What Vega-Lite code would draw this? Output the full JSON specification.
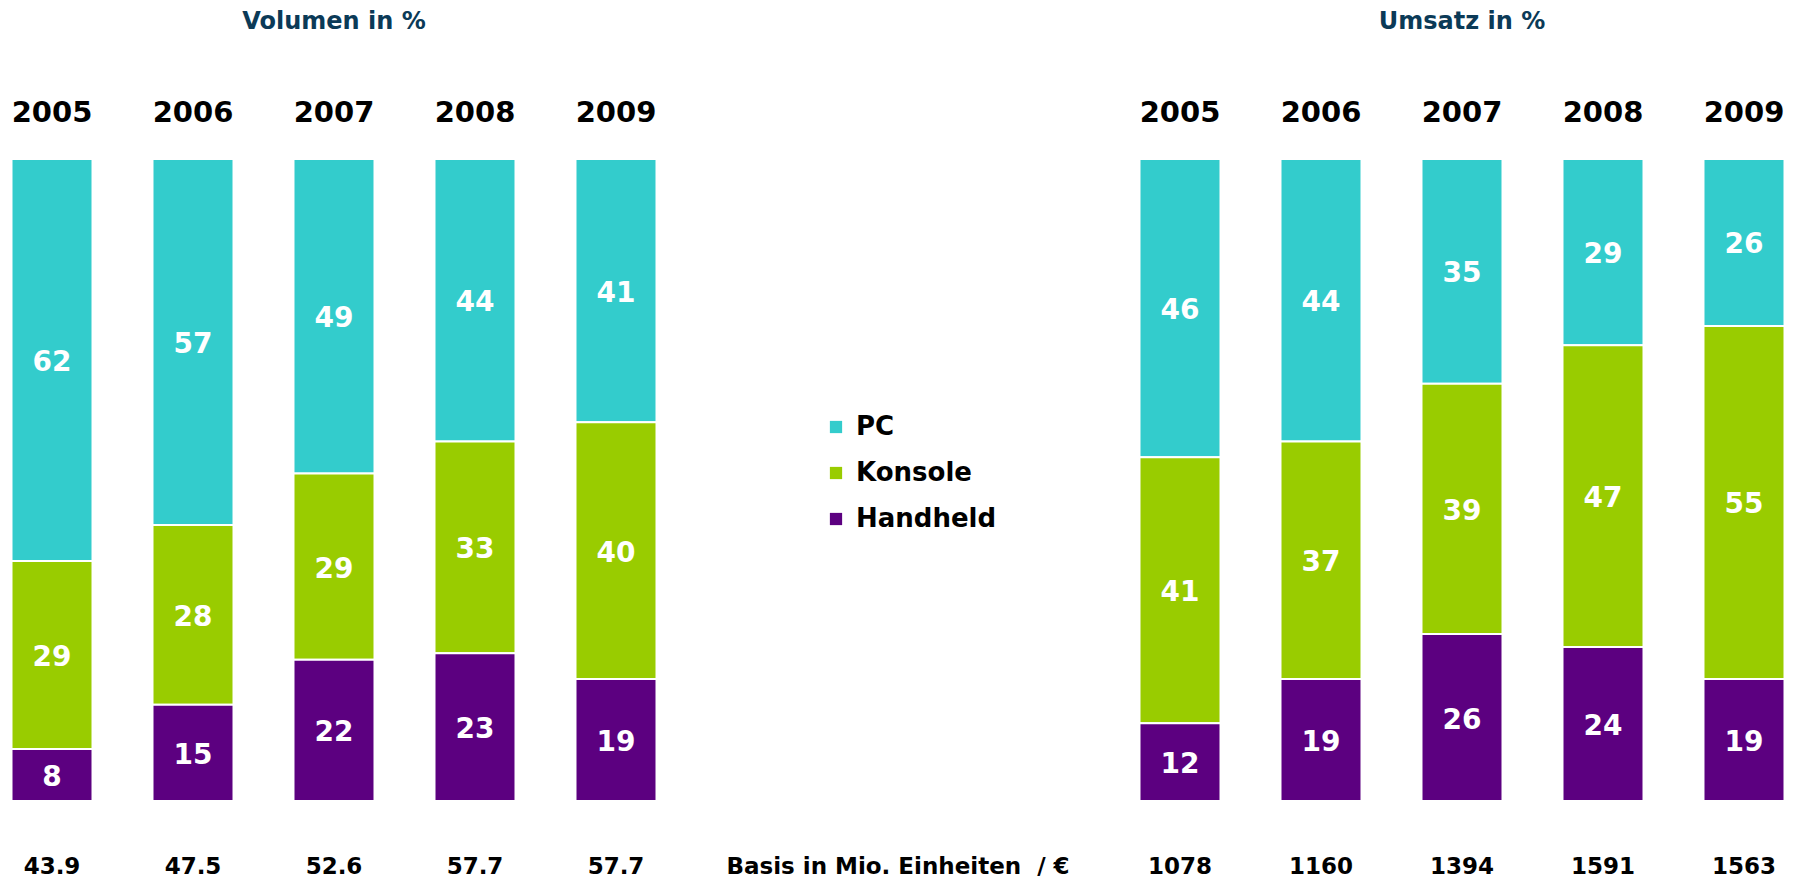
{
  "$schema": "https://vega.github.io/schema/vega-lite/v6.json",
  "width": 1804,
  "height": 882,
  "autosize": {"type": "none"},
  "padding": 0,
  "background": "white",
  "config": {"view": {"stroke": null}, "font": "DejaVu Sans"},
  "datasets": {
    "shares": [
      {"slot": "V2005", "year": "2005", "cat": "PC", "value": 62},
      {"slot": "V2005", "year": "2005", "cat": "Konsole", "value": 29},
      {"slot": "V2005", "year": "2005", "cat": "Handheld", "value": 8},
      {"slot": "V2006", "year": "2006", "cat": "PC", "value": 57},
      {"slot": "V2006", "year": "2006", "cat": "Konsole", "value": 28},
      {"slot": "V2006", "year": "2006", "cat": "Handheld", "value": 15},
      {"slot": "V2007", "year": "2007", "cat": "PC", "value": 49},
      {"slot": "V2007", "year": "2007", "cat": "Konsole", "value": 29},
      {"slot": "V2007", "year": "2007", "cat": "Handheld", "value": 22},
      {"slot": "V2008", "year": "2008", "cat": "PC", "value": 44},
      {"slot": "V2008", "year": "2008", "cat": "Konsole", "value": 33},
      {"slot": "V2008", "year": "2008", "cat": "Handheld", "value": 23},
      {"slot": "V2009", "year": "2009", "cat": "PC", "value": 41},
      {"slot": "V2009", "year": "2009", "cat": "Konsole", "value": 40},
      {"slot": "V2009", "year": "2009", "cat": "Handheld", "value": 19},
      {"slot": "U2005", "year": "2005", "cat": "PC", "value": 46},
      {"slot": "U2005", "year": "2005", "cat": "Konsole", "value": 41},
      {"slot": "U2005", "year": "2005", "cat": "Handheld", "value": 12},
      {"slot": "U2006", "year": "2006", "cat": "PC", "value": 44},
      {"slot": "U2006", "year": "2006", "cat": "Konsole", "value": 37},
      {"slot": "U2006", "year": "2006", "cat": "Handheld", "value": 19},
      {"slot": "U2007", "year": "2007", "cat": "PC", "value": 35},
      {"slot": "U2007", "year": "2007", "cat": "Konsole", "value": 39},
      {"slot": "U2007", "year": "2007", "cat": "Handheld", "value": 26},
      {"slot": "U2008", "year": "2008", "cat": "PC", "value": 29},
      {"slot": "U2008", "year": "2008", "cat": "Konsole", "value": 47},
      {"slot": "U2008", "year": "2008", "cat": "Handheld", "value": 24},
      {"slot": "U2009", "year": "2009", "cat": "PC", "value": 26},
      {"slot": "U2009", "year": "2009", "cat": "Konsole", "value": 55},
      {"slot": "U2009", "year": "2009", "cat": "Handheld", "value": 19}
    ],
    "basis": [
      {"slot": "V2005", "label": "43.9"},
      {"slot": "V2006", "label": "47.5"},
      {"slot": "V2007", "label": "52.6"},
      {"slot": "V2008", "label": "57.7"},
      {"slot": "V2009", "label": "57.7"},
      {"slot": "G2", "label": "Basis in Mio. Einheiten\u00a0 / €"},
      {"slot": "U2005", "label": "1078"},
      {"slot": "U2006", "label": "1160"},
      {"slot": "U2007", "label": "1394"},
      {"slot": "U2008", "label": "1591"},
      {"slot": "U2009", "label": "1563"}
    ],
    "titles": [
      {"slot": "V2007", "label": "Volumen in %"},
      {"slot": "U2007", "label": "Umsatz in %"}
    ]
  },
  "layer": [
    {
      "data": {"name": "shares"},
      "transform": [
        {"stack": "value", "groupby": ["slot"], "offset": "normalize", "sort": [{"field": "cat", "order": "ascending"}], "as": ["y0", "y1"]}
      ],
      "layer": [
        {
          "mark": {"type": "bar", "stroke": "white", "strokeWidth": 2},
          "encoding": {
            "x": {
              "field": "slot", "type": "nominal",
              "scale": {"domain": ["V2005","V2006","V2007","V2008","V2009","G1","G2","G3","U2005","U2006","U2007","U2008","U2009"], "range": [11.5, 1784.5], "paddingInner": 0.4255, "paddingOuter": 0},
              "axis": null
            },
            "y": {"field": "y0", "type": "quantitative", "scale": {"domain": [0, 1], "range": [801, 159], "nice": false, "zero": false}, "axis": null},
            "y2": {"field": "y1"},
            "color": {
              "field": "cat", "type": "nominal",
              "scale": {"domain": ["PC", "Konsole", "Handheld"], "range": ["#33CCCC", "#99CC00", "#5C0080"]},
              "legend": {
                "orient": "none", "legendX": 823, "legendY": 414, "title": null,
                "symbolType": "square", "symbolSize": 150, "symbolStrokeWidth": 0,
                "labelFontSize": 26, "labelFontWeight": "bold", "labelColor": "black", "labelFont": "DejaVu Sans",
                "labelOffset": 7, "rowPadding": 20
              }
            }
          }
        },
        {
          "transform": [
            {"fold": ["y0", "y1"], "as": ["edge", "pos"]},
            {"aggregate": [{"op": "mean", "field": "pos", "as": "mid"}], "groupby": ["slot", "cat", "value"]}
          ],
          "mark": {"type": "text", "color": "white", "fontWeight": "bold", "fontSize": 28, "baseline": "middle", "align": "center", "dy": 3},
          "encoding": {
            "x": {"field": "slot", "type": "nominal"},
            "y": {"field": "mid", "type": "quantitative"},
            "text": {"field": "value", "type": "quantitative"}
          }
        }
      ]
    },
    {
      "data": {"name": "shares"},
      "transform": [{"filter": "datum.cat === 'PC'"}],
      "mark": {"type": "text", "color": "black", "fontWeight": "bold", "fontSize": 29, "baseline": "middle", "align": "center", "dy": 1},
      "encoding": {
        "x": {"field": "slot", "type": "nominal"},
        "y": {"datum": 1.0732, "type": "quantitative"},
        "text": {"field": "year", "type": "nominal"}
      }
    },
    {
      "data": {"name": "basis"},
      "mark": {"type": "text", "color": "black", "fontWeight": "bold", "fontSize": 23, "baseline": "middle", "align": "center", "dy": 2},
      "encoding": {
        "x": {"field": "slot", "type": "nominal"},
        "y": {"datum": -0.0997, "type": "quantitative"},
        "text": {"field": "label", "type": "nominal"}
      }
    },
    {
      "data": {"name": "titles"},
      "mark": {"type": "text", "color": "#0B3A57", "fontWeight": "bold", "fontSize": 24, "baseline": "middle", "align": "center", "dy": 1},
      "encoding": {
        "x": {"field": "slot", "type": "nominal"},
        "y": {"datum": 1.2154, "type": "quantitative"},
        "text": {"field": "label", "type": "nominal"}
      }
    }
  ]
}
